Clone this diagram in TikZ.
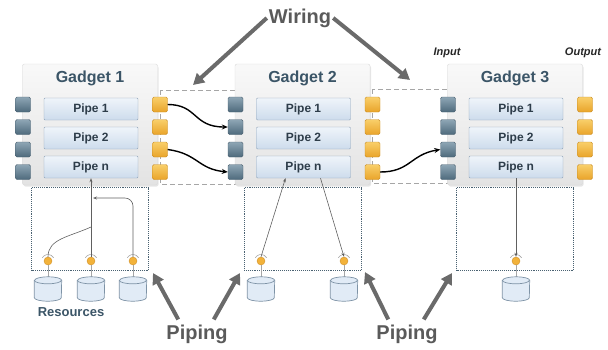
\documentclass[tikz,border=0pt]{standalone}
\usepackage{fontspec}
\setmainfont{Liberation Sans}
\usepackage{tikz}
\newcommand{\portsize}{15pt}
\newcommand{\sensorsize}{8pt}
\usetikzlibrary{arrows.meta}
\usetikzlibrary{shadows}
\definecolor{titleblue}{HTML}{3B5567}
\definecolor{pipetext}{HTML}{2E3D4A}
\definecolor{pipeedge}{HTML}{8FA3B8}
\definecolor{boxdots}{HTML}{4A6272}
\definecolor{arrowgray}{HTML}{6A6A6A}
\definecolor{cylfill}{HTML}{E1EBF6}
\definecolor{cyledge}{HTML}{7E93A6}
\tikzstyle{gadget}=[draw=gray!30, top color=gray!5, bottom color=gray!22, rounded corners=2pt,
                    minimum width=135pt, minimum height=121pt,
                    drop shadow={shadow xshift=1pt, shadow yshift=-1.5pt, opacity=0.2}]
\tikzstyle{title}=[text=titleblue, font=\fontsize{16}{18}\selectfont\bfseries]
\tikzstyle{pipe}=[draw=pipeedge, top color={rgb,255:red,239;green,244;blue,250},
                  bottom color={rgb,255:red,205;green,220;blue,236}, rounded corners=1pt,
                  minimum width=94pt, minimum height=22pt, text=pipetext,
                  font=\fontsize{12}{14}\selectfont\bfseries]
\tikzstyle{port}=[draw, inner sep=0, minimum size=\portsize, rounded corners=1.5pt]
\tikzstyle{inport}=[port, draw={rgb,255:red,74;green,96;blue,112},
                    top color={rgb,255:red,142;green,166;blue,181},
                    bottom color={rgb,255:red,78;green,106;blue,124}]
\tikzstyle{outport}=[port, draw={rgb,255:red,201;green,141;blue,37},
                     top color={rgb,255:red,249;green,207;blue,106},
                     bottom color={rgb,255:red,233;green,164;blue,42}]
\tikzstyle{wirebox}=[draw=gray!70, dashed, line width=0.9pt, dash pattern=on 5pt off 3pt]
\tikzstyle{pipebox}=[draw=boxdots, densely dotted, line width=0.9pt, minimum width=117pt, minimum height=83pt]
\tikzstyle{sensor}=[circle, inner sep=0, minimum size=\sensorsize, fill={rgb,255:red,242;green,178;blue,58},
                    draw={rgb,255:red,208;green,144;blue,42}]
% the resource node only holds the place, its cylinder is drawn by hand
\tikzstyle{resource}=[inner sep=0, minimum width=27pt, minimum height=24pt]
\tikzstyle{cyl}=[draw=cyledge, fill=cylfill, line width=0.7pt]
\tikzstyle{stem}=[draw=gray!70, line width=0.6pt]
\tikzstyle{flow}=[draw=gray!75!black, line width=0.6pt, -{Stealth[length=4pt]}]
\tikzstyle{wire}=[line width=1.4pt, -{Stealth[length=6pt, width=5pt]}]
\tikzstyle{bigarrow}=[draw=arrowgray, line width=4pt, -{Triangle[length=11pt, width=12pt]}]
\tikzstyle{bigtext}=[text=arrowgray!85!black, inner sep=2pt, font=\fontsize{20}{24}\selectfont\bfseries]
\tikzstyle{restext}=[text=titleblue, font=\fontsize{13}{15}\selectfont\bfseries]
\tikzstyle{iotext}=[text=gray!30!black, font=\fontsize{11}{13}\selectfont\bfseries\itshape]

\begin{document}
\begin{tikzpicture}[x=1pt, y=-1pt]
    \useasboundingbox (0,0) rectangle (608,349);
    % wiring areas
    \draw[wirebox] (160,90) rectangle (235.5,184);
    \draw[wirebox] (372,89) rectangle (447.5,183);
    % gadgets with their pipes and ports
    \foreach \g/\x in {1/90,2/302.5,3/515}{
        \node[pipebox] (g\g box) at (\x,229) {};
        \node[gadget] (g\g) at (\x,124.5) {};
        \node[title] (g\g t) at (\x,78) {Gadget \g};
        \foreach \p/\y in {1/109,2/138,n/167}
            \node[pipe] (g\g p\p) at (\x+1,\y) {Pipe \p};
        \foreach \k/\y in {1/104.5,2/127,3/149.5,4/172}{
            \node[inport] (g\g i\k) at (\x-67,\y) {};
            \node[outport] (g\g o\k) at (\x+70,\y) {};
        }
    }
    \node[iotext] (inlabel) at (447,53) {Input};
    \node[iotext] (outlabel) at (583,53) {Output};
    % sensors and resources
    \foreach \s/\x in {g1s1/48,g1s2/91,g1s3/133,g2s1/261,g2s2/344,g3s1/516}{
        \node[resource] (\s r) at (\x,289) {};
        \node[sensor] (\s) at (\x,261) {};
        \draw[stem] (\s) -- (\s r.north);
        \draw[stem] (\s.center) ++(-150:6.5) arc[start angle=-150, end angle=-30, radius=6.5];
        \draw[cyl] ([yshift=-3.5pt]\s r.north west) -- ([yshift=3.5pt]\s r.south west)
            arc[start angle=180, end angle=0, x radius=13.5, y radius=3.5]
            -- ([yshift=-3.5pt]\s r.north east)
            arc[start angle=0, end angle=-180, x radius=13.5, y radius=3.5] -- cycle;
        \draw[cyl, fill=none] ([yshift=-3.5pt]\s r.north west)
            arc[start angle=180, end angle=0, x radius=13.5, y radius=3.5];
    }
    \node[restext] (resources) at (71,312) {Resources};
    % piping
    \coordinate (g1j) at (91,227);
    \coordinate (g1k) at (93,198);
    \draw[flow] (g1s2) -- (g1pn.south);
    \draw[flow, -] (g1s1.north) .. controls +(0,-18) and +(-22,10) .. (g1j);
    \draw[flow, rounded corners=8pt] (g1s3.north) |- (g1k);
    \draw[flow] (g2s1.north) -- ([xshift=-18pt]g2pn.south);
    \draw[flow] ([xshift=17pt]g2pn.south) -- (g2s2.north);
    \draw[flow] (g3pn.south) -- (g3s1.north);
    % wiring
    \draw[wire] (g1o1.east) .. controls +(30,0) and +(-35,0) .. (g2i2.west);
    \draw[wire] (g1o3.east) .. controls +(30,4) and +(-30,-3) .. (g2i4.west);
    \draw[wire] (g2o4.east) .. controls +(30,0) and +(-30,5) .. (g3i3.west);
    % labels with big arrows
    \node[bigtext] (wiring) at (300,18) {Wiring};
    \node[bigtext] (piping1) at (197,334) {Piping};
    \node[bigtext] (piping2) at (407,334) {Piping};
    \coordinate (w1) at (193,85);
    \coordinate (w2) at (410,80);
    \draw[bigarrow] (wiring.west) -- (w1);
    \draw[bigarrow] (wiring.east) -- (w2);
    \coordinate (p1a) at (153,273);
    \coordinate (p1b) at (240,273);
    \coordinate (p2a) at (365,272);
    \coordinate (p2b) at (452,273);
    \draw[bigarrow] ([xshift=14pt, yshift=3pt]piping1.north west) -- (p1a);
    \draw[bigarrow] ([xshift=-16pt, yshift=3pt]piping1.north east) -- (p1b);
    \draw[bigarrow] ([xshift=14pt, yshift=3pt]piping2.north west) -- (p2a);
    \draw[bigarrow] ([xshift=-16pt, yshift=3pt]piping2.north east) -- (p2b);
\end{tikzpicture}
\end{document}
